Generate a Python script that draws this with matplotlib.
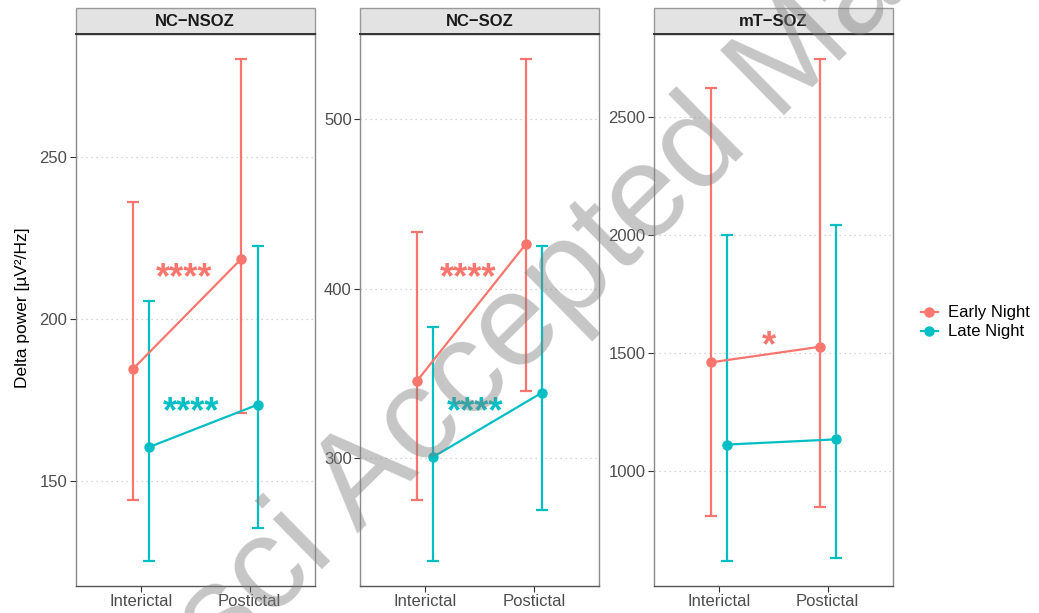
import matplotlib
matplotlib.use("Agg")
import matplotlib.pyplot as plt
from matplotlib.lines import Line2D
from matplotlib.patches import Rectangle
from matplotlib.ticker import MultipleLocator
import numpy as np

plt.rcParams['font.family'] = ['Liberation Sans', 'DejaVu Sans']

# Daten: Mittelwert und Fehlerbalken je Region / Zeitpunkt
regions = ["NC\u2212NSOZ", "NC\u2212SOZ", "mT\u2212SOZ"]
periods = ["Interictal", "Postictal"]
series = ["Early Night", "Late Night"]

early_mean = [[184.4, 218.5], [345.8, 426.5], [1462, 1528]]
early_lo = [[144.1, 170.9], [275.6, 340.0], [813, 851]]
early_hi = [[236.0, 280.1], [433.4, 535.5], [2624, 2747]]

late_mean = [[160.4, 173.5], [301.0, 338.9], [1114, 1136]]
late_lo = [[125.3, 135.5], [239.6, 269.8], [621, 634]]
late_hi = [[205.5, 222.3], [377.4, 425.0], [2000, 2043]]

# Signifikanzsterne (Text, x, y) je Panel
early_sig = [("****", 1.40, 215), ("****", 1.39, 411), ("*", 1.46, 1564)]
late_sig = [("****", 1.46, 173.5), ("****", 1.455, 331.7), None]

y_step = [50, 100, 500]

RED = "#F8766D"
TEAL = "#00BFC4"
W, H = 1039, 613

fig = plt.figure(figsize=(W / 100, H / 100), dpi=100)

panel_x = [75.5, 360, 653.7]
panel_w = 239.3
top_px, bot_px = 34.0, 586.0
strip_top = 8.0

x = np.arange(1, len(periods) + 1)
dodge = 0.075

for i, reg in enumerate(regions):
    ax = fig.add_axes([panel_x[i] / W, 1 - bot_px / H, panel_w / W, (bot_px - top_px) / H])
    for mean, lo, hi, col, off in [(early_mean[i], early_lo[i], early_hi[i], RED, -dodge),
                                   (late_mean[i], late_lo[i], late_hi[i], TEAL, dodge)]:
        mean = np.array(mean)
        yerr = [mean - np.array(lo), np.array(hi) - mean]
        ax.errorbar(x + off, mean, yerr=yerr, fmt='none', ecolor=col, elinewidth=1.6,
                    capsize=4.2, capthick=1.6, zorder=3)
        ax.plot(x + off, mean, '-o', color=col, lw=1.6, ms=6.5, zorder=4)

    for sig, col in [(early_sig[i], RED), (late_sig[i], TEAL)]:
        if sig is None:
            continue
        ax.annotate(sig[0], (sig[1], sig[2]), xytext=(0, -6), textcoords='offset points',
                    color=col, fontsize=26, fontweight='bold', ha='center', va='center',
                    zorder=5)

    allv = np.concatenate([early_lo[i], early_hi[i], late_lo[i], late_hi[i]])
    r = allv.max() - allv.min()
    ax.set_ylim(allv.min() - 0.05 * r, allv.max() + 0.05 * r)
    ax.set_xlim(0.4, 2.6)
    ax.yaxis.set_major_locator(MultipleLocator(y_step[i]))
    ax.set_xticks(x)
    ax.set_xticklabels(periods)
    ax.grid(axis='y', linestyle=(0, (1, 3)), color='#c8c8c8', lw=0.9)
    ax.set_axisbelow(True)
    ax.tick_params(colors='#333333', labelcolor='#4D4D4D', labelsize=12, length=4, width=0.8, pad=2)
    for s in ['left', 'right', 'top']:
        ax.spines[s].set_color('#8a8a8a')
        ax.spines[s].set_linewidth(1.0)
    ax.spines['bottom'].set_color('#555555')
    ax.spines['bottom'].set_linewidth(1.0)

    # Facettenkopf
    strip = Rectangle((panel_x[i] / W, 1 - top_px / H), panel_w / W, (top_px - strip_top) / H,
                      transform=fig.transFigure, facecolor='#E3E3E3', edgecolor='#999999',
                      lw=1.0, zorder=1)
    fig.patches.append(strip)
    fig.add_artist(Line2D([panel_x[i] / W, (panel_x[i] + panel_w) / W],
                          [1 - top_px / H, 1 - top_px / H], color='#333333', lw=1.4))
    fig.text((panel_x[i] + panel_w / 2) / W, 1 - (strip_top + top_px) / 2 / H, reg,
             ha='center', va='center', fontsize=12, fontweight='bold', color='#1A1A1A')

fig.text(23 / W, 1 - 308 / H, "Delta power [\u00b5V\u00b2/Hz]", rotation=90,
         ha='center', va='center', fontsize=12.5)

# Legende
for k, (name, col) in enumerate(zip(series, [RED, TEAL])):
    yk = 1 - (312.3 + 19 * k) / H
    fig.add_artist(Line2D([920.5 / W, 937.5 / W], [yk, yk], color=col, lw=1.6))
    fig.add_artist(Line2D([929 / W], [yk], color=col, marker='o', ms=6.5, lw=0))
    fig.text(948.5 / W, yk, name, ha='left', va='center', fontsize=12)

# Wasserzeichen
fig.text(222 / W, 1 - 668 / H, "sci Accepted Manuscript", rotation=44.5,
         rotation_mode='anchor', ha='left', va='baseline', fontsize=95,
         color='gray', alpha=0.45, zorder=10)

fig.savefig("out.png", dpi=100)
